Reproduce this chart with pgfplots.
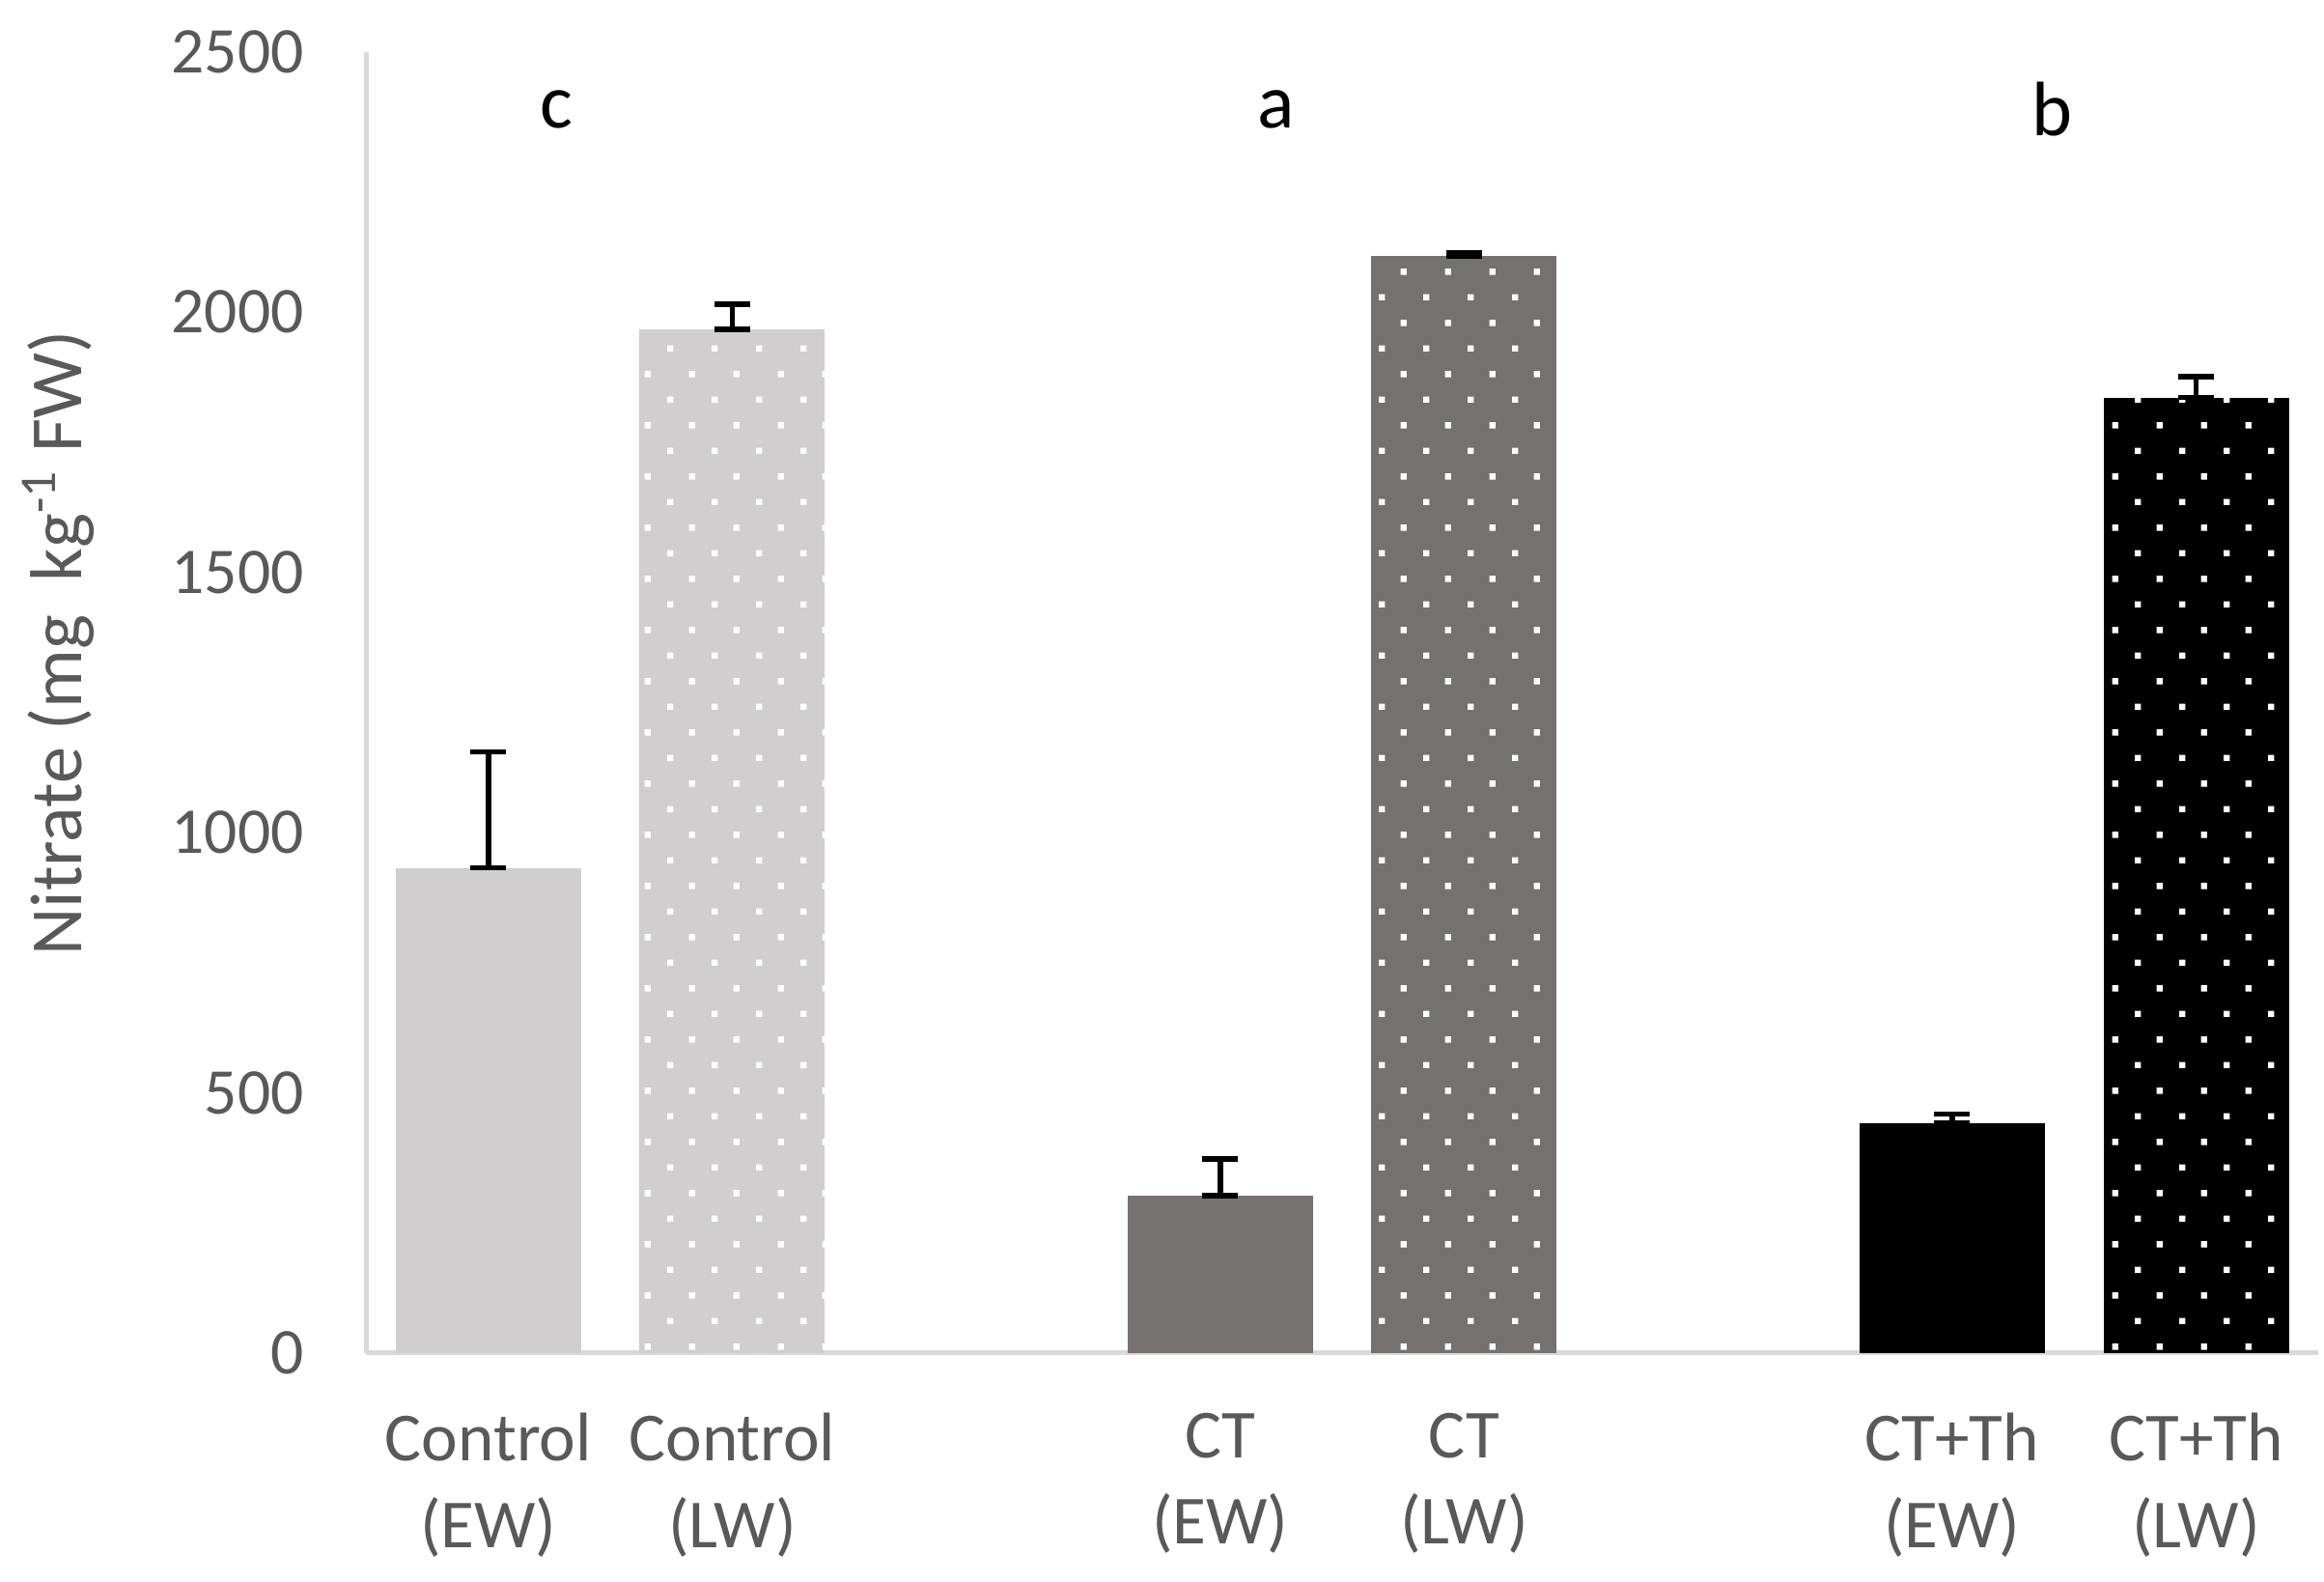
\documentclass[border=0pt]{standalone}
\usepackage{pgfplots}
\pgfplotsset{compat=1.18}
\usepackage{fontspec}
\setmainfont{Carlito}
\usetikzlibrary{patterns.meta}
\definecolor{txt}{HTML}{595959}
\definecolor{lgray}{HTML}{D0CECE}
\definecolor{dgray}{HTML}{767171}
\definecolor{axgray}{HTML}{D9D9D9}
\pgfdeclarepattern{
  name=wdots, type=uncolored,
  bottom left={\pgfpoint{0pt}{0pt}},
  top right={\pgfpoint{7.5pt}{8.7pt}},
  tile size={\pgfpoint{7.5pt}{8.7pt}},
  code={
    \pgfpathrectangle{\pgfpoint{0pt}{0pt}}{\pgfpoint{1.05pt}{1.05pt}}
    \pgfpathrectangle{\pgfpoint{3.75pt}{4.35pt}}{\pgfpoint{1.05pt}{1.05pt}}
    \pgfusepath{fill}
  }
}
\begin{document}
\begin{tikzpicture}
\begin{axis}[
  name=ax,
  scale only axis,
  width=329pt, height=219.25pt,
  xmin=-0.5, xmax=7.5,
  ymin=0, ymax=2500,
  axis lines=left,
  axis line style={draw=axgray, line width=0.8pt, -},
  ytick={0,500,1000,1500,2000,2500},
  xtick={0,1,3,4,6,7},
  xticklabels={{Control\\(EW)},{Control\\(LW)},{CT\\(EW)},{CT\\(LW)},{CT+Th\\(EW)},{CT+Th\\(LW)}},
  x tick label style={align=center, font=\fontsize{11.6}{14.6}\selectfont, text=txt, inner sep=0pt, yshift=-9.9pt},
  y tick label style={font=\fontsize{11}{13}\selectfont, text=txt, xshift=-7pt},
  /pgf/number format/assume math mode=true,
  /pgf/number format/1000 sep={},
  major tick length=0pt,
  ylabel={Nitrate (mg\ \ kg\textsuperscript{-1} FW)},
  ylabel style={font=\fontsize{12.4}{14}\selectfont, text=txt, inner sep=0pt, yshift=9.5pt, xshift=10pt},
  clip=false,
]
\addplot[ybar, bar width=0.76, bar shift=0pt, fill=lgray, draw=none] coordinates {(0,932)};
\addplot[ybar, bar width=0.76, bar shift=0pt, fill=lgray, draw=none, postaction={pattern=wdots, pattern color=white}] coordinates {(1,1967)};
\addplot[ybar, bar width=0.76, bar shift=0pt, fill=dgray, draw=none] coordinates {(3,302)};
\addplot[ybar, bar width=0.76, bar shift=0pt, fill=dgray, draw=none, postaction={pattern=wdots, pattern color=white}] coordinates {(4,2107)};
\addplot[ybar, bar width=0.76, bar shift=0pt, fill=black, draw=none] coordinates {(6,442)};
\addplot[ybar, bar width=0.76, bar shift=0pt, fill=black, draw=none, postaction={pattern=wdots, pattern color=white}] coordinates {(7,1836)};
% error bars (mean to mean+SE), drawn symmetric about the midpoint
\addplot[draw=none, mark=none, forget plot,
  error bars/.cd, y dir=both, y explicit,
  error bar style={black, line width=0.9pt},
  error mark options={black, line width=0.9pt, mark size=3pt, rotate=90}]
  coordinates {
  (0,1043.5) +- (0,111.5)
  (1,1991) +- (0,24)
  (3,337.5) +- (0,35.5)
  (4,2110) +- (0,3)
  (6,450.5) +- (0,8.5)
  (7,1856) +- (0,20)
  };
\node[font=\fontsize{13}{15}\selectfont, text=black] at (axis cs:0.28,2390) {c};
\node[font=\fontsize{13}{15}\selectfont, text=black] at (axis cs:3.23,2390) {a};
\node[font=\fontsize{13}{15}\selectfont, text=black] at (axis cs:6.41,2390) {b};
\end{axis}
\path[use as bounding box] ([xshift=-61.75pt, yshift=-38.5pt]ax.south west) rectangle ([xshift=1pt, yshift=8.75pt]ax.north east);
\end{tikzpicture}
\end{document}
